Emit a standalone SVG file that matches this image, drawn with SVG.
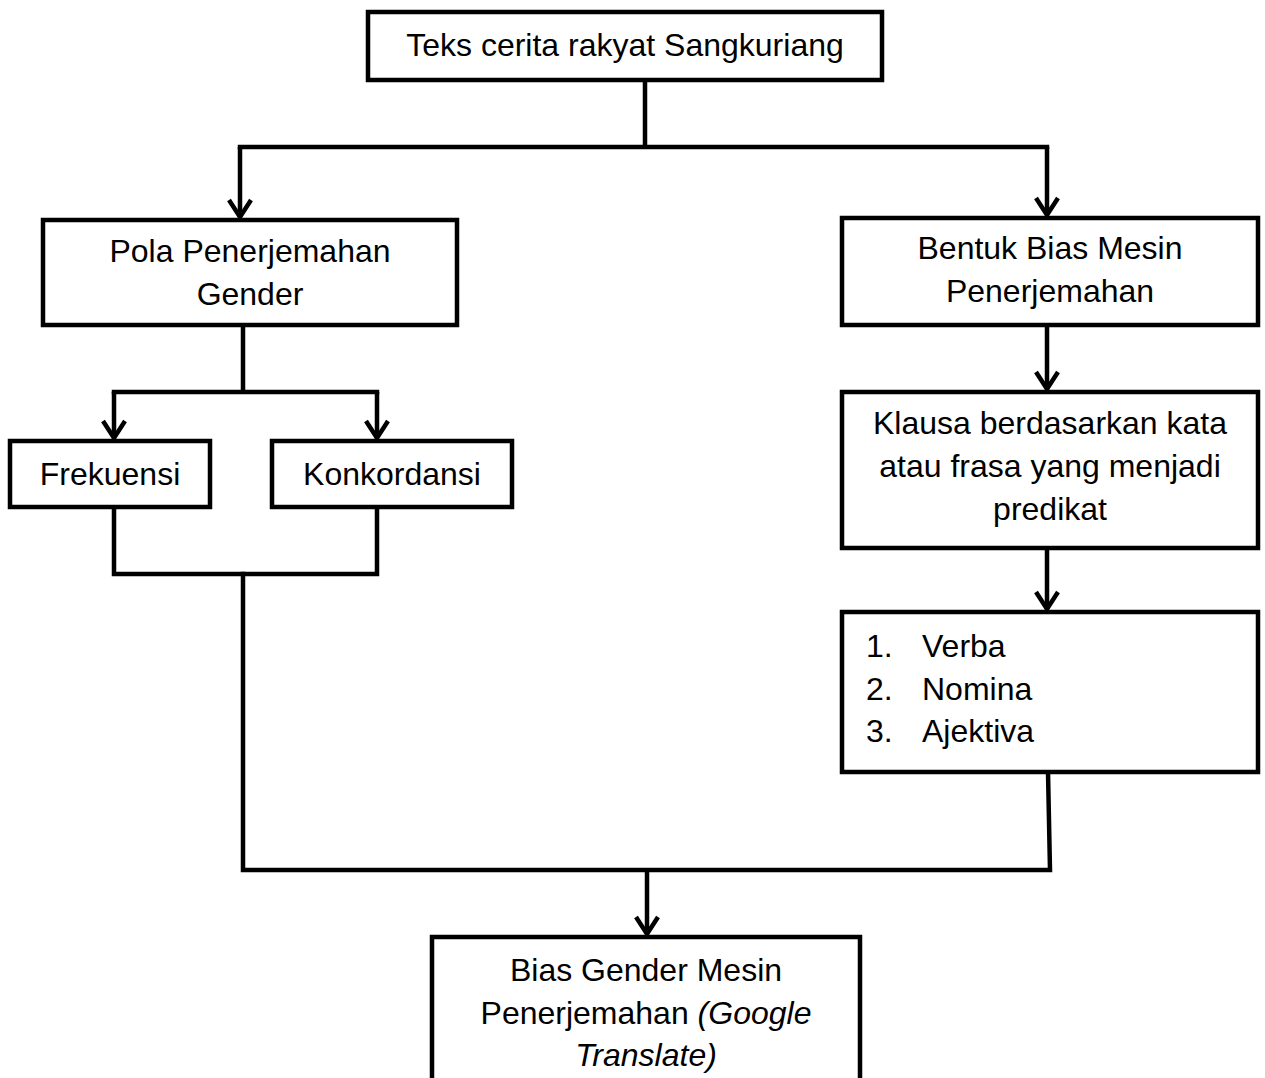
<svg xmlns="http://www.w3.org/2000/svg" width="1265" height="1078" viewBox="0 0 1265 1078">
<style>
.box{fill:#fff;stroke:#000;stroke-width:4.5}
.t{font-family:"Liberation Sans",Arial,sans-serif;font-size:32px;fill:#000;text-anchor:middle}
.l{text-anchor:start}
.c{fill:none;stroke:#000;stroke-width:4.5;stroke-linejoin:miter;stroke-linecap:square}
.a{fill:none;stroke:#000;stroke-width:4.5;stroke-linecap:butt}
</style>
<defs>
<marker id="ah" viewBox="0 0 22 26" refX="19" refY="13" markerWidth="22" markerHeight="26" markerUnits="userSpaceOnUse" orient="auto">
<path d="M2,2 L19,13 L2,24" fill="none" stroke="#000" stroke-width="4.5"/>
</marker>
</defs>
<g id="connectors">
<path class="c" d="M645,80 V147 M240,147 H1047"/>
<path class="a" d="M240,147 V217" marker-end="url(#ah)"/>
<path class="a" d="M1047,147 V215" marker-end="url(#ah)"/>
<path class="c" d="M243,325 V392 M114,392 H377"/>
<path class="a" d="M114,392 V438" marker-end="url(#ah)"/>
<path class="a" d="M377,392 V438" marker-end="url(#ah)"/>
<path class="c" d="M114,507 V574 H377 V507"/>
<path class="c" d="M243,574 V870 H1050 L1048,772"/>
<path class="a" d="M647,870 V934" marker-end="url(#ah)"/>
<path class="a" d="M1047,325 V389" marker-end="url(#ah)"/>
<path class="a" d="M1047,548 V609" marker-end="url(#ah)"/>
</g>
<g id="n-teks">
<rect class="box" x="368" y="12" width="514" height="68"/>
<text class="t" x="625" y="56">Teks cerita rakyat Sangkuriang</text>
</g>
<g id="n-pola">
<rect class="box" x="43" y="220" width="414" height="105"/>
<text class="t" x="250" y="262">Pola Penerjemahan</text>
<text class="t" x="250" y="305">Gender</text>
</g>
<g id="n-frekuensi">
<rect class="box" x="10" y="441" width="200" height="66"/>
<text class="t" x="110" y="485">Frekuensi</text>
</g>
<g id="n-konkordansi">
<rect class="box" x="272" y="441" width="240" height="66"/>
<text class="t" x="392" y="485">Konkordansi</text>
</g>
<g id="n-bentuk">
<rect class="box" x="842" y="218" width="416" height="107"/>
<text class="t" x="1050" y="259">Bentuk Bias Mesin</text>
<text class="t" x="1050" y="302">Penerjemahan</text>
</g>
<g id="n-klausa">
<rect class="box" x="842" y="392" width="416" height="156"/>
<text class="t" x="1050" y="434">Klausa berdasarkan kata</text>
<text class="t" x="1050" y="477">atau frasa yang menjadi</text>
<text class="t" x="1050" y="520">predikat</text>
</g>
<g id="n-list">
<rect class="box" x="842" y="612" width="416" height="160"/>
<text class="t l" x="866" y="657">1.</text><text class="t l" x="922" y="657">Verba</text>
<text class="t l" x="866" y="700">2.</text><text class="t l" x="922" y="700">Nomina</text>
<text class="t l" x="866" y="742">3.</text><text class="t l" x="922" y="742">Ajektiva</text>
</g>
<g id="n-bias">
<rect class="box" x="432" y="937" width="428" height="160"/>
<text class="t" x="646" y="981">Bias Gender Mesin</text>
<text class="t" x="646" y="1024">Penerjemahan <tspan font-style="italic">(Google</tspan></text>
<text class="t" x="646" y="1066" font-style="italic">Translate)</text>
</g>
</svg>
